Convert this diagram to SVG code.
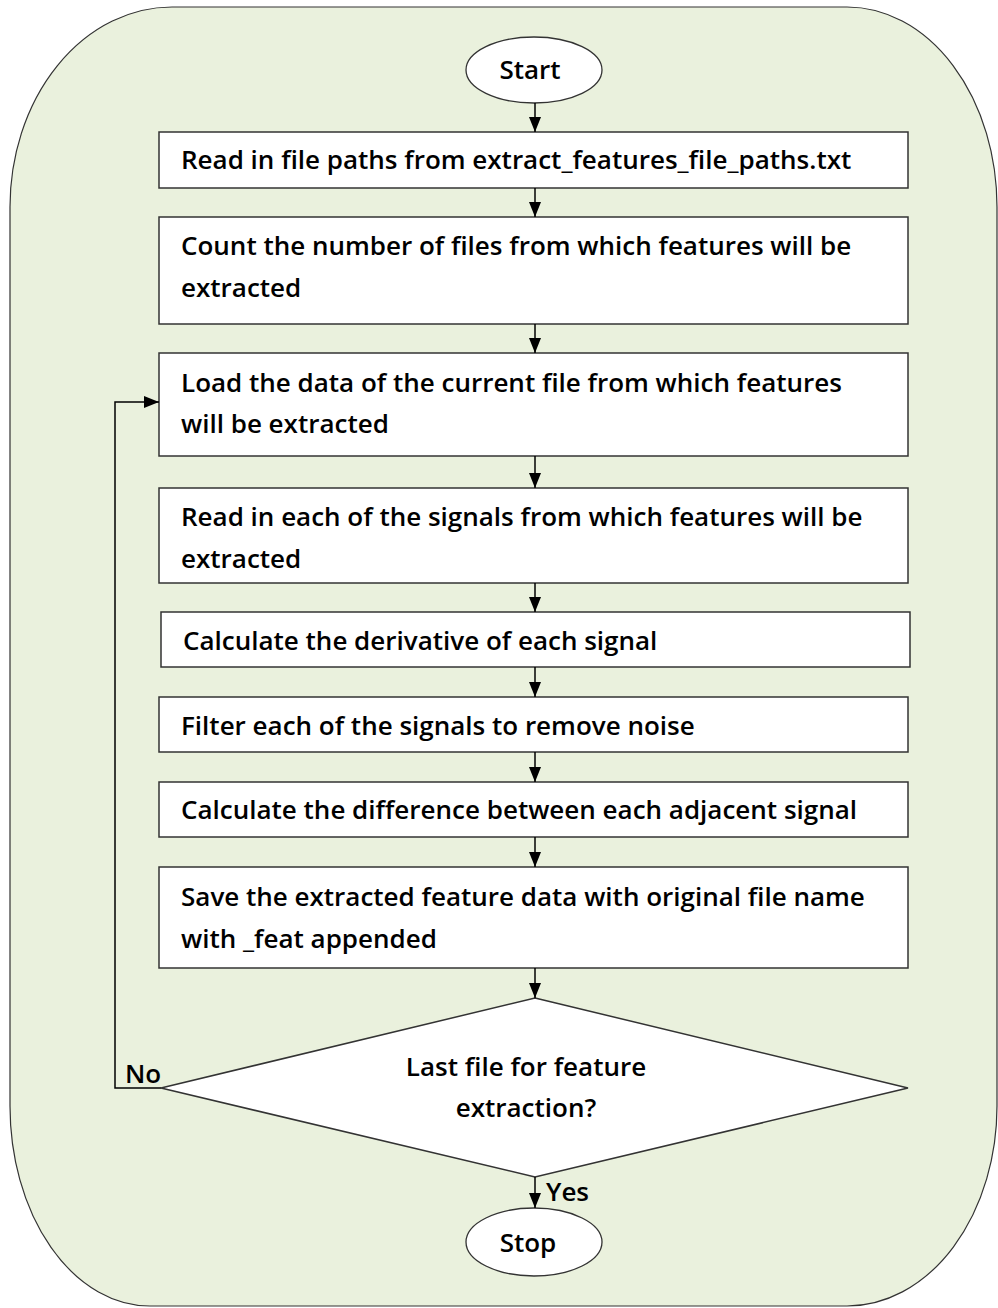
<svg xmlns="http://www.w3.org/2000/svg" width="998" height="1308" viewBox="0 0 998 1308">
  <defs>
    <marker id="arrow" viewBox="0 0 15 12" refX="15" refY="6" markerWidth="15" markerHeight="12" markerUnits="userSpaceOnUse" orient="auto">
      <path d="M0,0 L15,6 L0,12 Z" fill="#000"/>
    </marker>
    <style>
      .panel { fill: #eaf1dd; stroke: #333; stroke-width: 1.2; }
      .box { fill: #fff; stroke: #333; stroke-width: 1.5; }
      .term { fill: #fff; stroke: #333; stroke-width: 1.3; }
      .link { fill: none; stroke: #000; stroke-width: 1.5; }
      text { font-family: "Open Sans", Lato, "Liberation Sans", sans-serif; font-size: 26px; font-weight: 600; fill: #000; }
      .mid { text-anchor: middle; }
    </style>
  </defs>

  <!-- rounded background panel -->
  <path class="panel" d="M172,7 L847,7 A150,200 0 0 1 997,207 L997,1105 A150,200 0 0 1 847,1306 L150,1306 A140,200 0 0 1 10,1106 L10,207 A162,200 0 0 1 172,7 Z"/>

  <g id="start">
    <ellipse class="term" cx="534" cy="70" rx="68" ry="33"/>
    <text class="mid" x="530" y="79">Start</text>
  </g>

  <g id="read-paths">
    <rect class="box" x="159" y="132" width="749" height="56"/>
    <text x="181" y="169">Read in file paths from extract_features_file_paths.txt</text>
  </g>

  <g id="count-files">
    <rect class="box" x="159" y="217" width="749" height="107"/>
    <text x="181" y="255">Count the number of files from which features will be</text>
    <text x="181" y="297">extracted</text>
  </g>

  <g id="load-data">
    <rect class="box" x="159" y="353" width="749" height="103"/>
    <text x="181" y="392">Load the data of the current file from which features</text>
    <text x="181" y="433">will be extracted</text>
  </g>

  <g id="read-signals">
    <rect class="box" x="159" y="488" width="749" height="95"/>
    <text x="181" y="526">Read in each of the signals from which features will be</text>
    <text x="181" y="568">extracted</text>
  </g>

  <g id="derivative">
    <rect class="box" x="161" y="612" width="749" height="55"/>
    <text x="183" y="650">Calculate the derivative of each signal</text>
  </g>

  <g id="filter">
    <rect class="box" x="159" y="697" width="749" height="55"/>
    <text x="181" y="735">Filter each of the signals to remove noise</text>
  </g>

  <g id="difference">
    <rect class="box" x="159" y="782" width="749" height="55"/>
    <text x="181" y="819">Calculate the difference between each adjacent signal</text>
  </g>

  <g id="save">
    <rect class="box" x="159" y="867" width="749" height="101"/>
    <text x="181" y="906">Save the extracted feature data with original file name</text>
    <text x="181" y="948">with _feat appended</text>
  </g>

  <g id="last-file">
    <polygon class="box" points="535,998 908,1088 535,1177 161,1088"/>
    <text class="mid" x="526" y="1076">Last file for feature</text>
    <text class="mid" x="526" y="1117">extraction?</text>
  </g>

  <g id="stop">
    <ellipse class="term" cx="534" cy="1242" rx="68" ry="34"/>
    <text class="mid" x="528" y="1252">Stop</text>
  </g>

  <g id="connectors">
    <line class="link" x1="535" y1="103" x2="535" y2="132" marker-end="url(#arrow)"/>
    <line class="link" x1="535" y1="188" x2="535" y2="217" marker-end="url(#arrow)"/>
    <line class="link" x1="535" y1="324" x2="535" y2="353" marker-end="url(#arrow)"/>
    <line class="link" x1="535" y1="456" x2="535" y2="488" marker-end="url(#arrow)"/>
    <line class="link" x1="535" y1="583" x2="535" y2="612" marker-end="url(#arrow)"/>
    <line class="link" x1="535" y1="667" x2="535" y2="697" marker-end="url(#arrow)"/>
    <line class="link" x1="535" y1="752" x2="535" y2="782" marker-end="url(#arrow)"/>
    <line class="link" x1="535" y1="837" x2="535" y2="867" marker-end="url(#arrow)"/>
    <line class="link" x1="535" y1="968" x2="535" y2="998" marker-end="url(#arrow)"/>
    <polyline class="link" points="161,1088 115,1088 115,402 159,402" marker-end="url(#arrow)"/>
    <line class="link" x1="535" y1="1177" x2="535" y2="1208" marker-end="url(#arrow)"/>
    <text x="125" y="1083">No</text>
    <text x="546" y="1201">Yes</text>
  </g>
</svg>
